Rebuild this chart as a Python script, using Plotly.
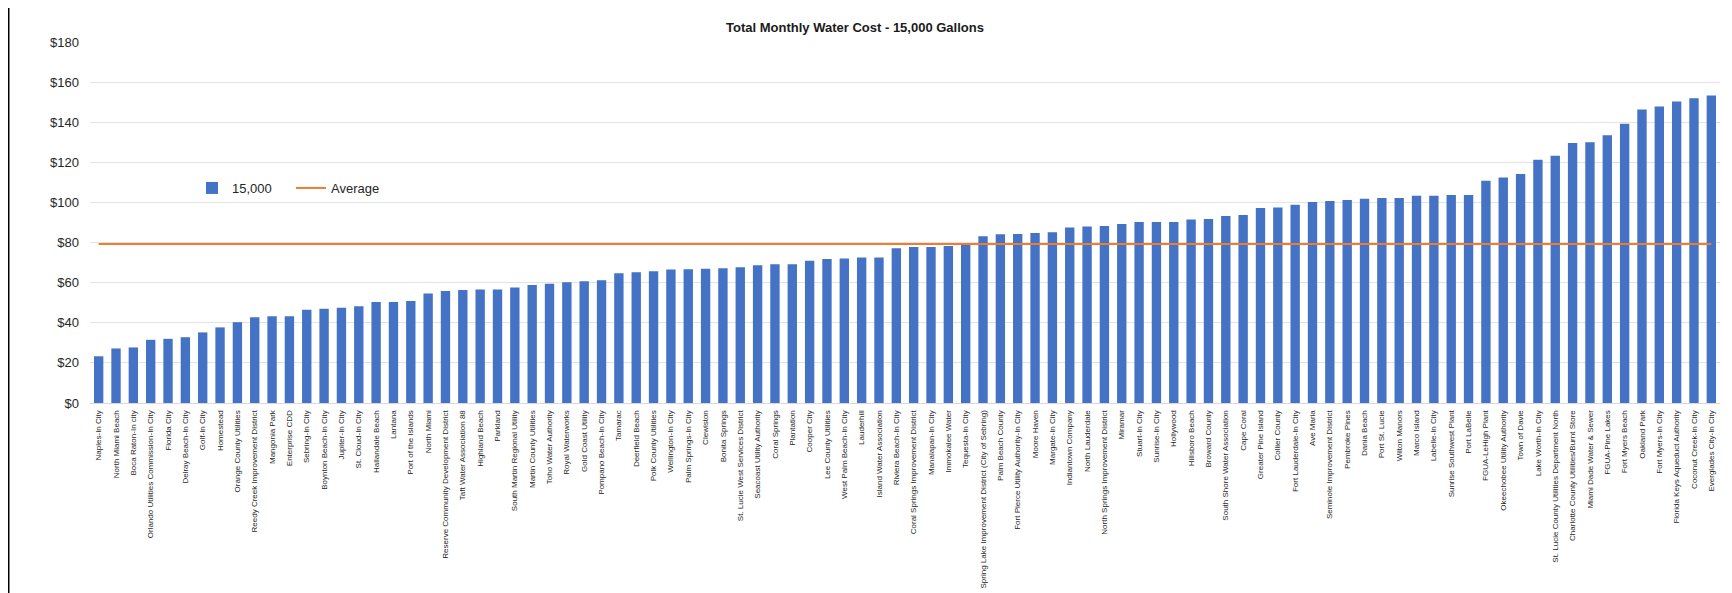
import plotly.graph_objects as go

utilities = [
    "Naples-In City", "North Miami Beach", "Boca Raton-In city", "Orlando Utilities Commission-In City",
    "Florida City", "Delray Beach-In City", "Golf-In City", "Homestead", "Orange County Utilities",
    "Reedy Creek Improvement District", "Mangonia Park", "Enterprise CDD", "Sebring-In City",
    "Boynton Beach-In City", "Jupiter-In City", "St. Cloud-In City", "Hallandale Beach", "Lantana",
    "Port of the Islands", "North Miami", "Reserve Community Development District",
    "Taft Water Association 88", "Highland Beach", "Parkland", "South Martin Regional Utility",
    "Martin County Utilities", "Toho Water Authority", "Royal Waterworks", "Gold Coast Utility",
    "Pompano Beach-In City", "Tamarac", "Deerfield Beach", "Polk County Utilities", "Wellington-In City",
    "Palm Springs-In City", "Clewiston", "Bonita Springs", "St. Lucie West Services District",
    "Seacoast Utility Authority", "Coral Springs", "Plantation", "Cooper City", "Lee County Utilities",
    "West Palm Beach-In City", "Lauderhill", "Island Water Association", "Riviera Beach-In City",
    "Coral Springs Improvement District", "Manalapan-In City", "Immokalee Water", "Tequesta-In City",
    "Spring Lake Improvement District (City of Sebring)", "Palm Beach County",
    "Fort Pierce Utility Authority-In City", "Moore Haven", "Margate-In City", "Indiantown Company",
    "North Lauderdale", "North Springs Improvement District", "Miramar", "Stuart-In City",
    "Sunrise-In City", "Hollywood", "Hillsboro Beach", "Broward County", "South Shore Water Association",
    "Cape Coral", "Greater Pine Island", "Collier County", "Fort Lauderdale-In City", "Ave Maria",
    "Seminole Improvement District", "Pembroke Pines", "Dania Beach", "Port St. Lucie", "Wilton Manors",
    "Marco Island", "Labelle-In City", "Sunrise Southwest Plant", "Port LaBelle", "FGUA-LeHigh Plant",
    "Okeechobee Utility Authority", "Town of Davie", "Lake Worth-In City",
    "St. Lucie County Utilities Department North", "Charlotte County Utilities/Burnt Store",
    "Miami Dade Water & Sewer", "FGUA-Pine Lakes", "Fort Myers Beach", "Oakland Park",
    "Fort Myers-In City", "Florida Keys Aqueduct Authority", "Coconut Creek-In City",
    "Everglades City-In City",
]

cost_15000 = [
    23.3, 27.2, 27.7, 31.5, 32.0, 32.8, 35.2, 37.7, 40.3, 42.7,
    43.3, 43.3, 46.5, 47.0, 47.5, 48.2, 50.3, 50.3, 50.9, 54.6,
    55.8, 56.3, 56.6, 56.6, 57.6, 58.8, 59.5, 60.2, 60.7, 61.2,
    64.7, 65.2, 65.7, 66.6, 66.7, 66.9, 67.2, 67.7, 68.7, 69.2,
    69.2, 70.9, 71.8, 72.1, 72.6, 72.6, 77.1, 77.8, 77.8, 78.3,
    79.0, 83.2, 84.2, 84.3, 84.8, 85.2, 87.5, 88.0, 88.3, 89.3,
    90.2, 90.2, 90.2, 91.5, 91.8, 93.3, 93.8, 97.2, 97.5, 98.8,
    100.2, 100.7, 101.2, 101.8, 102.2, 102.2, 103.3, 103.3, 103.7, 103.7,
    110.8, 112.5, 114.2, 121.3, 123.3, 129.7, 130.0, 133.5, 139.2, 146.3,
    147.8, 150.3, 152.0, 153.3,
]

average_cost = 79.3

y_ticks = [0, 20, 40, 60, 80, 100, 120, 140, 160, 180]

# The page puts the figure 8px in from the top-left corner (body margin).
OFF = 8
W, H = 1732 - OFF, 593 - OFF
L, R, T, B = 90 - OFF, 12, 42 - OFF, 190
pw, ph = W - L - R, H - T - B

fig = go.Figure()
fig.add_trace(go.Bar(
    x=utilities, y=cost_15000, name="15,000",
    marker=dict(color="#4472C4", line=dict(width=0)),
))
fig.add_trace(go.Scatter(
    x=utilities, y=[average_cost] * len(utilities), name="Average",
    mode="lines", line=dict(color="#ED7D31", width=2),
))

fig.update_layout(
    width=W, height=H,
    margin=dict(l=L, r=R, t=T, b=B, autoexpand=False),
    paper_bgcolor="white", plot_bgcolor="white",
    bargap=0.46,
    font=dict(family="Liberation Sans, sans-serif", color="#404040"),
    title=dict(
        text="<b>Total Monthly Water Cost - 15,000 Gallons</b>",
        x=(855 - OFF) / W, xanchor="center", xref="container",
        y=1 - (27 - OFF) / H, yanchor="middle", yref="container",
        font=dict(size=13, color="#1a1a1a", family="Liberation Sans, sans-serif"),
    ),
    legend=dict(
        orientation="h", x=(192 - OFF - L) / pw, xanchor="left",
        y=(H - B - (188 - OFF)) / ph, yanchor="middle",
        font=dict(size=13, color="#262626", family="Liberation Sans, sans-serif"),
        bgcolor="rgba(0,0,0,0)", itemwidth=30, tracegroupgap=0,
        entrywidth=54, entrywidthmode="pixels",
    ),
    showlegend=True,
)
fig.update_xaxes(
    type="category", tickangle=-90,
    tickfont=dict(size=8, color="#1f1f1f", family="Liberation Sans, sans-serif"),
    showgrid=False, showline=True, linecolor="#D9D9D9", linewidth=1,
    ticks="", ticklabelstandoff=3, automargin=False,
)
fig.update_yaxes(
    range=[0, 180], tickvals=y_ticks, ticktext=[f"${v}" for v in y_ticks],
    tickfont=dict(size=13, color="#262626", family="Liberation Sans, sans-serif"),
    showgrid=True, gridcolor="#E3E3E3", gridwidth=1, zeroline=False,
    ticks="", ticklabelstandoff=10, automargin=False,
)
fig.add_shape(
    type="line", xref="paper", yref="paper",
    x0=(0.75 - L) / pw, x1=(0.75 - L) / pw, y0=-B / ph, y1=(H - B) / ph,
    line=dict(color="#000000", width=1.5),
)

fig.write_html("out.html")
